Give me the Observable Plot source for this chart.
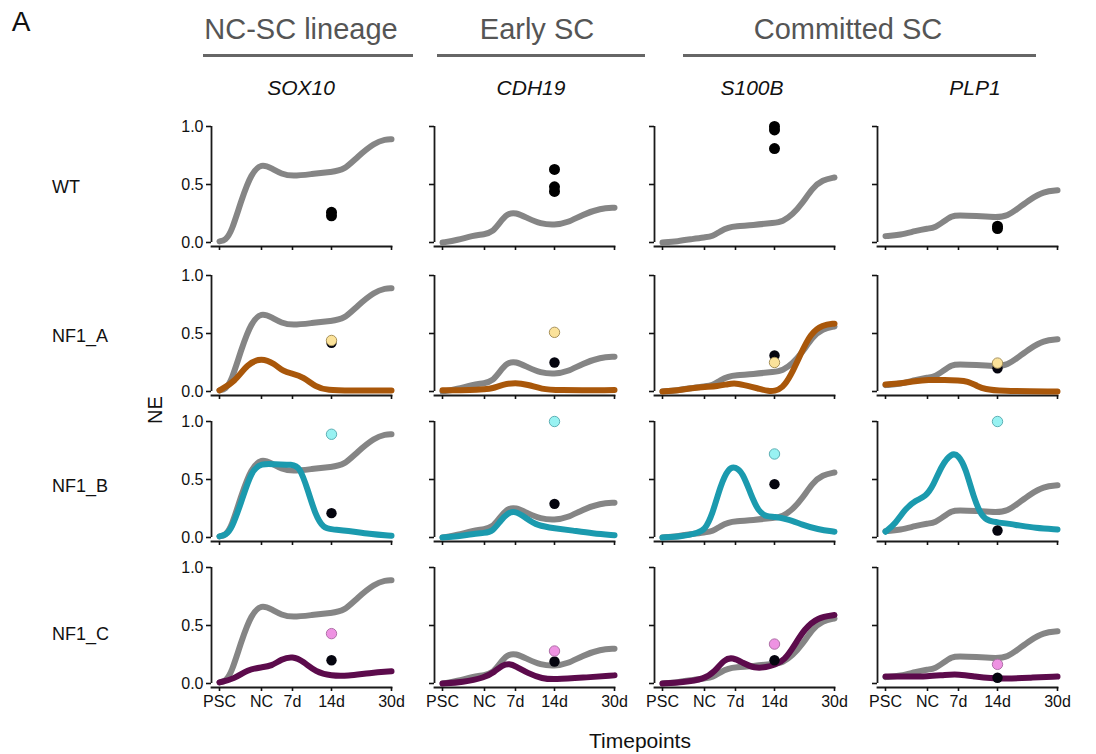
<!DOCTYPE html>
<html>
<head>
<meta charset="utf-8">
<script src="https://cdn.jsdelivr.net/npm/d3@7"></script>
<script src="https://cdn.jsdelivr.net/npm/@observablehq/plot@0.6"></script>
<style>
  html, body { margin: 0; padding: 0; background: #fff; }
  #root { position: relative; width: 1096px; height: 754px; font-family: "Liberation Sans", Arial, sans-serif; color: #111; overflow: hidden; }
  .t { position: absolute; transform: translate(-50%, -50%); white-space: nowrap; line-height: 1; }
  .panel { position: absolute; }
  .hline { position: absolute; height: 3px; background: #666; }
</style>
</head>
<body>
<div id="root"></div>
<script>
// ---------- data ----------
const timepoints = ["PSC", "NC", "7d", "14d", "30d"];
const tickPos = [0, 42, 73, 112, 172];          // relative position of each timepoint
const genes = ["SOX10", "CDH19", "S100B", "PLP1"];
const lines = ["WT", "NF1_A", "NF1_B", "NF1_C"];
const groups = ["NC-SC lineage", "Early SC", "Committed SC"];

// reference (WT, gray) curves: [position, NE]
const sox10Gray = [[0,.01],[6,.02],[12,.09],[22,.37],[32,.60],[42,.68],[52,.64],[62,.59],[73,.57],[92,.59],[112,.61],[124,.62],[138,.74],[155,.86],[166,.89],[172,.89]];
const cdh19Gray = [[0,0],[15,.02],[30,.06],[42,.07],[50,.09],[57,.17],[65,.25],[73,.26],[85,.21],[98,.16],[112,.15],[125,.17],[140,.24],[158,.295],[172,.30]];
const s100bGray = [[0,0],[15,.01],[30,.03],[42,.045],[50,.05],[58,.10],[66,.13],[73,.14],[90,.15],[112,.17],[120,.18],[130,.24],[140,.34],[150,.47],[160,.54],[172,.56]];
const plp1Gray  = [[0,.055],[15,.065],[30,.10],[42,.12],[50,.13],[58,.18],[66,.23],[73,.235],[90,.23],[112,.215],[122,.23],[132,.29],[145,.375],[158,.44],[172,.45]];

// NF1_A curves
const sox10A = [[0,.01],[15,.08],[28,.24],[42,.29],[55,.24],[64,.17],[73,.155],[84,.125],[96,.04],[108,.01],[130,.008],[172,.008]];
const cdh19A = [[0,.01],[30,.012],[42,.02],[50,.025],[60,.06],[73,.078],[85,.06],[100,.02],[112,.01],[172,.012]];
const s100bA = [[0,0],[15,.01],[30,.03],[42,.04],[55,.045],[66,.065],[73,.072],[85,.05],[98,.02],[106,.003],[112,.003],[120,.03],[128,.13],[138,.32],[148,.50],[160,.575],[172,.585]];
const plp1A  = [[0,.06],[15,.07],[30,.09],[42,.10],[60,.10],[73,.095],[82,.09],[92,.045],[100,.02],[112,.005],[172,0]];

// NF1_B curves
const sox10B = [[0,.01],[6,.02],[12,.07],[22,.31],[32,.58],[42,.64],[55,.63],[73,.63],[80,.61],[88,.42],[96,.19],[104,.08],[112,.07],[128,.06],[150,.03],[172,.015]];
const cdh19B = [[0,0],[15,.01],[30,.03],[42,.04],[50,.05],[58,.145],[65,.21],[73,.23],[83,.17],[95,.10],[112,.08],[130,.06],[150,.035],[172,.02]];
const s100bB = [[0,0],[20,.01],[35,.04],[42,.06],[50,.20],[58,.45],[66,.60],[73,.61],[80,.56],[88,.38],[96,.22],[104,.18],[112,.18],[125,.16],[140,.11],[155,.07],[172,.05]];
const plp1B  = [[0,.05],[10,.12],[20,.25],[30,.32],[40,.35],[48,.45],[56,.62],[66,.73],[73,.71],[80,.60],[88,.35],[96,.18],[104,.14],[112,.13],[130,.11],[150,.08],[172,.07]];

// NF1_C curves
const sox10C = [[0,.01],[15,.04],[28,.12],[42,.14],[52,.15],[62,.21],[73,.235],[84,.19],[96,.10],[112,.065],[128,.065],[150,.09],[172,.105]];
const cdh19C = [[0,0],[20,.01],[42,.05],[52,.10],[60,.16],[67,.17],[73,.15],[85,.09],[100,.04],[112,.035],[140,.05],[172,.07]];
const s100bC = [[0,0],[20,.01],[42,.04],[52,.10],[62,.21],[70,.225],[80,.18],[92,.13],[104,.14],[112,.16],[122,.20],[132,.33],[142,.47],[155,.57],[172,.59]];
const plp1C  = [[0,.06],[20,.06],[42,.06],[60,.075],[73,.08],[90,.06],[105,.045],[120,.04],[145,.05],[172,.06]];

// measured points at 14d: WT rows -> black dots; KO rows -> [black, colored]
const sox10Dots = { WT: [.26, .23], NF1_A: [.42, .44], NF1_B: [.21, .89], NF1_C: [.20, .43] };
const cdh19Dots = { WT: [.63, .48, .44], NF1_A: [.25, .51], NF1_B: [.29, 1.0], NF1_C: [.19, .28] };
const s100bDots = { WT: [1.0, .97, .81], NF1_A: [.31, .25], NF1_B: [.46, .72], NF1_C: [.20, .34] };
const plp1Dots  = { WT: [.14, .12], NF1_A: [.20, .245], NF1_B: [.06, 1.0], NF1_C: [.05, .165] };

// ---------- styling ----------
const grayColor = "#858585";
const lineColors = { NF1_A: "#a9570a", NF1_B: "#1b9aae", NF1_C: "#5c0b4c" };
const dotFill = { NF1_A: "#fbe29a", NF1_B: "#98f2f2", NF1_C: "#ee92e2" };
const dotStroke = { NF1_A: "#a8925a", NF1_B: "#5fb0b5", NF1_C: "#b070a8" };
const colLeft = [211, 434, 654, 877];   // y-axis spine x of each column
const rowTop = [126, 275, 421, 567];    // pixel of NE = 1.0 for each row
const FONT = "'Liberation Sans', Arial, sans-serif";

const grayCurves = { SOX10: sox10Gray, CDH19: cdh19Gray, S100B: s100bGray, PLP1: plp1Gray };
const koCurves = {
  NF1_A: { SOX10: sox10A, CDH19: cdh19A, S100B: s100bA, PLP1: plp1A },
  NF1_B: { SOX10: sox10B, CDH19: cdh19B, S100B: s100bB, PLP1: plp1B },
  NF1_C: { SOX10: sox10C, CDH19: cdh19C, S100B: s100bC, PLP1: plp1C }
};
const dotSets = { SOX10: sox10Dots, CDH19: cdh19Dots, S100B: s100bDots, PLP1: plp1Dots };

const root = document.getElementById("root");
function addText(txt, cx, cy, style) {
  const d = document.createElement("div");
  d.className = "t";
  d.textContent = txt;
  d.style.left = cx + "px";
  d.style.top = cy + "px";
  Object.assign(d.style, style || {});
  root.appendChild(d);
}

// ---------- panels ----------
const ML = 45, MR = 5, MT = 10, MB = 30, W = 230, H = 160;
lines.forEach((ln, r) => {
  genes.forEach((g, c) => {
    const toObj = a => a.map(([x, y]) => ({ x, y }));
    const marks = [];
    marks.push(Plot.frame({ anchor: "bottom", stroke: "#1a1a1a", strokeWidth: 1.8 }));
    marks.push(Plot.ruleX([-8], { y1: 0, y2: 1, stroke: "#1a1a1a", strokeWidth: 1.8 }));
    marks.push(Plot.axisY({
      ticks: [0, 0.5, 1], tickSize: 5, tickPadding: 3, strokeWidth: 1.6,
      tickFormat: c === 0 ? d3.format(".1f") : () => "", label: null, fontSize: 16
    }));
    marks.push(Plot.axisX({
      ticks: tickPos, tickSize: 4, tickPadding: 4, strokeWidth: 1.6,
      tickFormat: r === 3 ? (d => timepoints[tickPos.indexOf(d)]) : () => "", label: null, fontSize: 16
    }));
    marks.push(Plot.line(toObj(grayCurves[g]), {
      x: "x", y: "y", curve: "basis", stroke: grayColor, strokeWidth: 6, strokeLinecap: "round"
    }));
    if (ln !== "WT") {
      marks.push(Plot.line(toObj(koCurves[ln][g]), {
        x: "x", y: "y", curve: "basis", stroke: lineColors[ln], strokeWidth: 6, strokeLinecap: "round"
      }));
    }
    const dv = dotSets[g][ln];
    if (ln === "WT") {
      marks.push(Plot.dot(dv.map(v => ({ x: tickPos[3], y: v })), { x: "x", y: "y", r: 5.5, fill: "#000" }));
    } else {
      marks.push(Plot.dot([{ x: tickPos[3], y: dv[0] }], { x: "x", y: "y", r: 5.2, fill: "#05050f" }));
      marks.push(Plot.dot([{ x: tickPos[3], y: dv[1] }], { x: "x", y: "y", r: 5.2, fill: dotFill[ln], stroke: dotStroke[ln], strokeWidth: 1 }));
    }
    const svg = Plot.plot({
      width: W, height: H, marginLeft: ML, marginRight: MR, marginTop: MT, marginBottom: MB,
      x: { domain: [-8, 172], axis: null },
      y: { domain: [0, 1], range: [H - MB - 4, MT], axis: null },
      style: { fontFamily: FONT, fontSize: "16px", color: "#111", background: "transparent", overflow: "visible" },
      marks
    });
    svg.classList.add("panel");
    svg.style.position = "absolute";
    svg.style.left = (colLeft[c] - ML) + "px";
    svg.style.top = (rowTop[r] - MT) + "px";
    root.appendChild(svg);
  });
});

// ---------- text ----------
addText("A", 21, 22, { fontSize: "28px", color: "#111" });
const groupCenters = [301, 537, 848];
groups.forEach((gname, i) => addText(gname, groupCenters[i], 29, { fontSize: "29px", color: "#555" }));
const groupLines = [[203, 413], [437, 645], [683, 1036]];
groupLines.forEach(([a, b]) => {
  const d = document.createElement("div");
  d.className = "hline";
  d.style.left = a + "px"; d.style.width = (b - a) + "px"; d.style.top = "54px";
  root.appendChild(d);
});
const geneCenters = [301, 531, 752, 975];
genes.forEach((g, i) => addText(g, geneCenters[i], 87, { fontSize: "21px", fontStyle: "italic", color: "#111" }));
const rowCenters = [187, 336, 486, 634];
lines.forEach((ln, i) => {
  const d = document.createElement("div");
  d.textContent = ln;
  Object.assign(d.style, { position: "absolute", left: "52px", top: (rowCenters[i] - 9) + "px", fontSize: "18px", lineHeight: "18px", color: "#111" });
  root.appendChild(d);
});
addText("NE", 155, 410, { fontSize: "20px", transform: "translate(-50%, -50%) rotate(-90deg)" });
addText("Timepoints", 640, 740, { fontSize: "21px" });
</script>
</body>
</html>
